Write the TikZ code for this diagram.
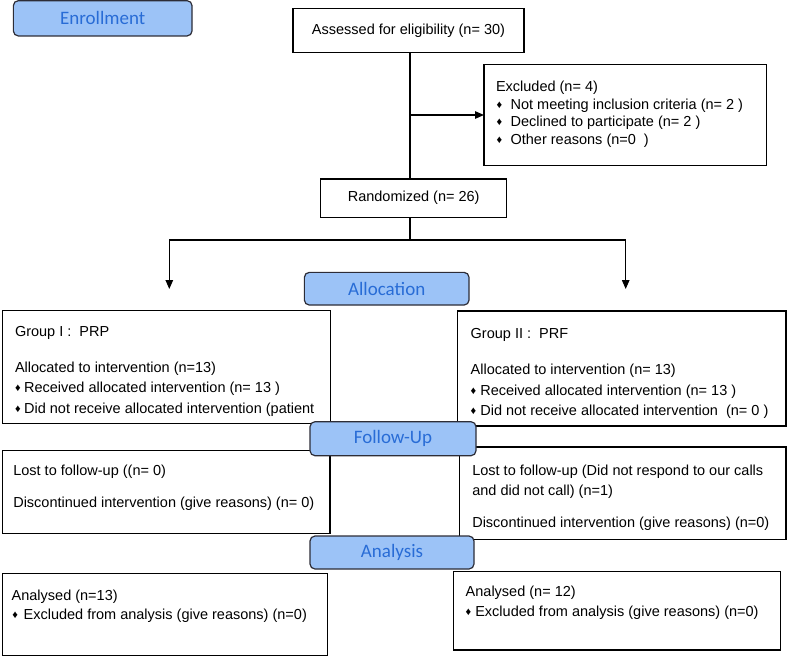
\documentclass[tikz,border=0pt]{standalone}
\usepackage{fontspec}
\setmainfont{Liberation Sans}
\newfontfamily\hdrfont{Carlito}
\usetikzlibrary{arrows.meta}
\definecolor{hdrfill}{RGB}{156,195,247}
\definecolor{hdrtext}{RGB}{40,108,214}
\definecolor{hdrline}{RGB}{45,45,55}
\newcommand{\bul}[1]{{\fontsize{11}{11}\selectfont\raisebox{0.8pt}{♦}}\hspace{#1}}
\begin{document}
\begin{tikzpicture}[x=1pt,y=-1pt,
  box/.style={draw=black,line width=1.2pt,fill=white,inner sep=0pt,outer sep=0pt,anchor=north west},
  hdr/.style={draw=hdrline,line width=1.2pt,fill=hdrfill,rounded corners=5pt,inner sep=0pt,outer sep=0pt,
    text=hdrtext,font=\hdrfont\fontsize{19}{19}\selectfont},
  txt/.style={anchor=base west,inner sep=0pt,outer sep=0pt,font=\fontsize{14.5}{16}\selectfont},
  ctxt/.style={font=\fontsize{14.5}{16}\selectfont},
  conn/.style={line width=1.2pt,draw=black},
  arr/.style={conn,-{Triangle[length=9pt,width=7.5pt]}}]
\useasboundingbox (0,0) rectangle (787,657);

% enrollment
\node[box,ctxt,minimum width=231pt,minimum height=44pt] (assess) at (293,8.3) {Assessed for eligibility (n= 30)};
\node[box,minimum width=282.7pt,minimum height=101.4pt] (excl) at (484,64.3) {};
\node[txt] (exclt) at (496,91) {Excluded (n= 4)};
\node[txt] (excl1) at (496.5,109) {\bul{8.5pt}Not meeting inclusion criteria (n= 2 )};
\node[txt] (excl2) at (496.5,126.5) {\bul{8.5pt}Declined to participate (n= 2 )};
\node[txt] (excl3) at (496.5,144) {\bul{8.5pt}Other reasons (n=0\ \ )};
\node[box,ctxt,minimum width=186pt,minimum height=38.3pt] (rand) at (320.7,179) {\raisebox{-1.5pt}{Randomized (n= 26)}};

\coordinate (trunk) at (410,0);
\coordinate (split) at (410,240);
\coordinate (lft) at (169.3,240);
\coordinate (rgt) at (625.7,240);
\coordinate (lftend) at (169.3,289);
\coordinate (rgtend) at (625.7,289);
\draw[conn] (trunk |- assess.south) -- (trunk |- rand.north);
\draw[arr] (trunk |- excl.west) -- (excl.west);
\draw[conn] (trunk |- rand.south) -- (split);
\draw[conn] (lft) -- (rgt);
\draw[arr] (lft) -- (lftend);
\draw[arr] (rgt) -- (rgtend);

% allocation
\node[box,minimum width=328pt,minimum height=113pt] (g1) at (2.7,310.3) {};
\node[txt] (g1a) at (15,336) {Group I :\ \ PRP};
\node[txt] (g1b) at (15,372) {Allocated to intervention (n=13)};
\node[txt] (g1c) at (15,392.5) {\bul{3.5pt}Received allocated intervention (n= 13 )};
\node[txt] (g1d) at (15,413) {\bul{3.5pt}Did not receive allocated intervention (patient};
\node[box,minimum width=328.3pt,minimum height=115pt] (g2) at (457.7,311) {};
\node[txt] (g2a) at (470.7,338.5) {Group II :\ \ PRF};
\node[txt] (g2b) at (470.7,374) {Allocated to intervention (n= 13)};
\node[txt] (g2c) at (470.7,395) {\bul{4pt}Received allocated intervention (n= 13 )};
\node[txt] (g2d) at (470.7,415.5) {\bul{4pt}Did not receive allocated intervention\ \ (n= 0 )};

% follow-up
\node[box,minimum width=327.3pt,minimum height=82.6pt] (lost1) at (2.7,450.7) {};
\node[txt] (lost1a) at (13.3,475) {Lost to follow-up ((n= 0)};
\node[txt] (lost1b) at (13.3,507) {Discontinued intervention (give reasons) (n= 0)};
\node[box,minimum width=326.7pt,minimum height=92.3pt] (lost2) at (459.3,447) {};
\node[txt] (lost2a) at (472.3,475) {Lost to follow-up (Did not respond to our calls};
\node[txt] (lost2b) at (472.3,495) {and did not call) (n=1)};
\node[txt] (lost2c) at (472.3,527) {Discontinued intervention (give reasons) (n=0)};

% analysis
\node[box,minimum width=325pt,minimum height=82.2pt] (an1) at (2.7,573.3) {};
\node[txt] (an1a) at (11.7,600.5) {Analysed (n=13)};
\node[txt] (an1b) at (12.5,619.5) {\bul{5.5pt}Excluded from analysis (give reasons) (n=0)};
\node[box,minimum width=327.4pt,minimum height=78.3pt] (an2) at (453.3,571.7) {};
\node[txt] (an2a) at (465.7,596) {Analysed (n= 12)};
\node[txt] (an2b) at (465.7,616) {\bul{4pt}Excluded from analysis (give reasons) (n=0)};

% headers
\node[hdr,minimum width=178.7pt,minimum height=35.3pt] (henr) at (102.7,18.3) {Enrollment};
\node[hdr,minimum width=164.7pt,minimum height=32.7pt] (halloc) at (386.7,288.7) {Allocation};
\node[hdr,minimum width=166pt,minimum height=34pt] (hfollow) at (393,438.7) {Follow-Up};
\node[hdr,minimum width=164pt,minimum height=33pt] (hanal) at (392,552.5) {Analysis};
\end{tikzpicture}
\end{document}
